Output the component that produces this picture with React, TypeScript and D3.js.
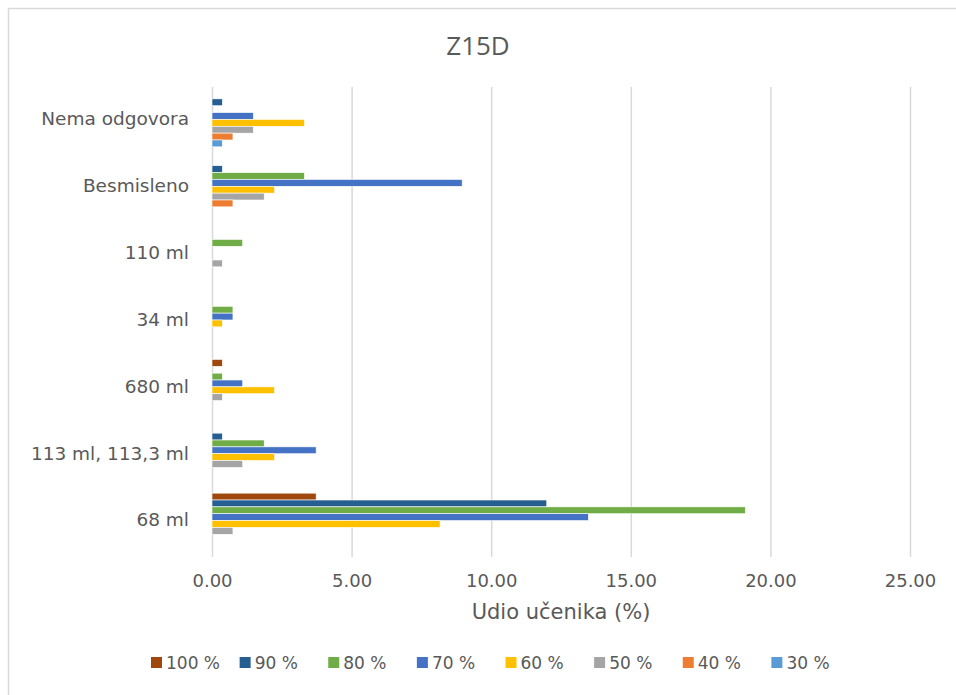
import { useEffect, useRef } from 'react';
import * as d3 from 'd3';

const categories = ['Nema odgovora', 'Besmisleno', '110 ml', '34 ml', '680 ml', '113 ml, 113,3 ml', '68 ml'];
const seriesNames = ['100 %', '90 %', '80 %', '70 %', '60 %', '50 %', '40 %', '30 %'];
const seriesColors = ['#9e480e', '#255e91', '#70ad47', '#4472c4', '#ffc000', '#a5a5a5', '#ed7d31', '#5b9bd5'];

// values per series, in category order (top to bottom)
const s100 = [0, 0, 0, 0, 0.37, 0, 3.73];
const s90 = [0.37, 0.37, 0, 0, 0, 0.37, 11.99];
const s80 = [0, 3.31, 1.1, 0.75, 0.37, 1.87, 19.1];
const s70 = [1.48, 8.96, 0, 0.75, 1.1, 3.73, 13.48];
const s60 = [3.31, 2.24, 0, 0.37, 2.24, 2.24, 8.17];
const s50 = [1.48, 1.87, 0.37, 0, 0.37, 1.1, 0.75];
const s40 = [0.75, 0.75, 0, 0, 0, 0, 0];
const s30 = [0.37, 0, 0, 0, 0, 0, 0];
const seriesValues = [s100, s90, s80, s70, s60, s50, s40, s30];

const xTicks = [0, 5, 10, 15, 20, 25];

export default function App() {
  const svgRef = useRef<SVGSVGElement>(null);

  useEffect(() => {
    if (!svgRef.current) return;
    const width = 956;
    const height = 695;
    const margin = { top: 86, right: 46, bottom: 141, left: 212 };

    const svg = d3.select(svgRef.current);
    svg.selectAll('*').remove();
    svg.attr('width', width).attr('height', height);

    svg.append('rect').attr('width', width).attr('height', height).attr('fill', 'white');
    svg.append('rect').attr('x', 8.5).attr('y', 8.5).attr('width', width + 10).attr('height', height + 10)
      .attr('fill', 'none').attr('stroke', '#d9d9d9').attr('stroke-width', 1.5);

    const x = d3.scaleLinear().domain([0, 25]).range([margin.left, width - margin.right]);
    const y = d3.scaleBand<string>().domain(categories)
      .range([margin.top, height - margin.bottom]).paddingInner(0.18).paddingOuter(0.09);
    const inner = d3.scaleBand<string>().domain(seriesNames).range([0, y.bandwidth()]);

    // gridlines
    svg.append('g')
      .attr('transform', `translate(0,${margin.top + 1})`)
      .call(d3.axisBottom(x).tickValues(xTicks).tickSize(height - margin.bottom - margin.top + 2).tickFormat(() => ''))
      .call((gg) => {
        gg.select('.domain').remove();
        gg.selectAll('.tick line').attr('stroke', '#d9d9d9').attr('stroke-width', 1.5);
      });

    // x tick labels
    svg.append('g')
      .attr('transform', `translate(0,${height - margin.bottom})`)
      .call(d3.axisBottom(x).tickValues(xTicks).tickSize(0).tickFormat((d) => d3.format('.2f')(Number(d))))
      .call((gg) => {
        gg.select('.domain').remove();
        gg.selectAll('text').attr('fill', '#595959').attr('font-size', '18px')
          .attr('font-family', 'DejaVu Sans').attr('dy', '0').attr('y', 33);
      });

    // y category labels
    svg.append('g')
      .attr('transform', `translate(${margin.left},0)`)
      .call(d3.axisLeft(y).tickSize(0))
      .call((gg) => {
        gg.select('.domain').remove();
        gg.selectAll('text').attr('fill', '#595959').attr('font-size', '18.5px')
          .attr('font-family', 'DejaVu Sans').attr('x', -23);
      });

    // bars
    seriesNames.forEach((name, si) => {
      svg.append('g').selectAll('rect')
        .data(seriesValues[si].map((v, ci) => ({ cat: categories[ci], v })))
        .enter().append('rect')
        .attr('x', x(0))
        .attr('y', (d) => (y(d.cat) ?? 0) + (inner(name) ?? 0))
        .attr('width', (d) => x(d.v) - x(0))
        .attr('height', inner.bandwidth())
        .attr('fill', seriesColors[si])
        .attr('stroke', 'white').attr('stroke-width', 0.6);
    });

    // title
    svg.append('text').attr('x', 478).attr('y', 55).attr('text-anchor', 'middle')
      .attr('font-family', 'Open Sans').attr('font-size', '26px').attr('fill', '#595959').text('Z15D');

    // axis title
    svg.append('text').attr('x', (x(0) + x(25)) / 2).attr('y', 619).attr('text-anchor', 'middle')
      .attr('font-family', 'DejaVu Sans').attr('font-size', '21px').attr('fill', '#595959').text('Udio učenika (%)');

    // legend
    const lx = d3.scaleBand<string>().domain(seriesNames).range([151, 860]);
    const leg = svg.append('g').selectAll('g').data(seriesNames).enter().append('g')
      .attr('transform', (d) => `translate(${lx(d)},669)`);
    leg.append('rect').attr('x', 0).attr('y', -12).attr('width', 11).attr('height', 11)
      .attr('fill', (_, i) => seriesColors[i]);
    leg.append('text').attr('x', 15).attr('y', 0).attr('font-family', 'DejaVu Sans')
      .attr('font-size', '17px').attr('fill', '#595959').text((d) => d);
  }, []);

  return (
    <div style={{ position: 'fixed', left: 0, top: 0 }}>
      <svg ref={svgRef} style={{ display: 'block' }} />
    </div>
  );
}
